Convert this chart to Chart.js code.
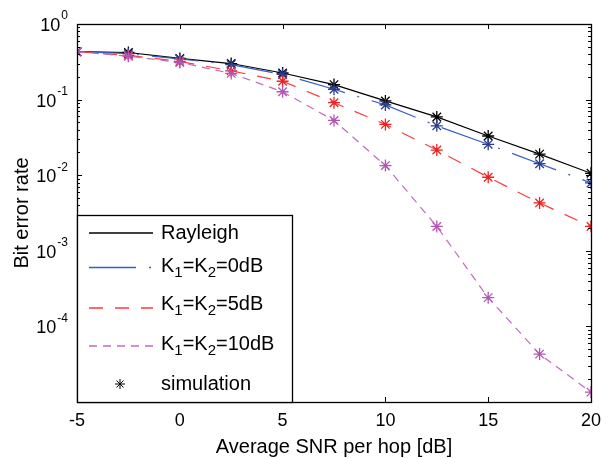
<!DOCTYPE html>
<html>
<head>
<meta charset="utf-8">
<script src="https://cdn.jsdelivr.net/npm/chart.js@4/dist/chart.umd.min.js"></script>
<style>
  body { margin: 0; background: #fff; }
</style>
</head>
<body>
<canvas id="ber" width="609" height="459"></canvas>
<script>
// Bit error rate vs. average SNR per hop
var snr = [-5, -2.5, 0, 2.5, 5, 7.5, 10, 12.5, 15, 17.5, 20];
var rayleigh = [0.43, 0.42, 0.35, 0.30, 0.225, 0.158, 0.096, 0.059, 0.033, 0.019, 0.0106];
var k0dB = [0.43, 0.405, 0.345, 0.29, 0.215, 0.137, 0.085, 0.045, 0.0256, 0.0142, 0.0079];
var k5dB = [0.43, 0.385, 0.32, 0.24, 0.175, 0.091, 0.047, 0.0215, 0.0094, 0.0043, 0.0021];
var k10dB = [0.43, 0.375, 0.31, 0.222, 0.127, 0.053, 0.0134, 0.0021, 0.00024, 0.000043, 0.0000135];

var xTicks = [-5, 0, 5, 10, 15, 20];
var yDecades = [0, -1, -2, -3, -4];
var legendLabels = ['Rayleigh', 'K_1=K_2=0dB', 'K_1=K_2=5dB', 'K_1=K_2=10dB', 'simulation'];

var FONT = '"Liberation Sans", Arial, sans-serif';

function pts(values) {
    return snr.map(function(x, i) { return {x: x, y: values[i]}; });
}

var series = [
    {label: legendLabels[0], data: rayleigh, color: '#000000', star: '#000000', dash: [], order: 3},
    {label: legendLabels[1], data: k0dB, color: '#3a5cc8', star: '#2b3f8a', dash: [47, 13, 2, 13], order: 2},
    {label: legendLabels[2], data: k5dB, color: '#ff3a3a', star: '#ee2222', dash: [14, 12], order: 1},
    {label: legendLabels[3], data: k10dB, color: '#c06cc0', star: '#b455b4', dash: [8, 6], order: 0}
];

// draw "K_1=K_2" style text with subscripts
function drawRich(ctx, text, x, y, size) {
    var parts = text.split(/_(.)/);
    for (var i = 0; i < parts.length; i++) {
        if (!parts[i]) continue;
        if (i % 2 === 1) {
            ctx.font = Math.round(size * 0.75) + 'px ' + FONT;
            ctx.fillText(parts[i], x, y + 7);
        } else {
            ctx.font = size + 'px ' + FONT;
            ctx.fillText(parts[i], x, y);
        }
        x += ctx.measureText(parts[i]).width;
    }
}

var matlabAxes = {
    id: 'matlabAxes',
    afterDatasetsDraw: function(chart) {
        var ctx = chart.ctx;
        var a = chart.chartArea;
        var xs = chart.scales.x, ys = chart.scales.y;
        ctx.save();
        ctx.strokeStyle = '#000';
        ctx.lineWidth = 1;
        ctx.setLineDash([]);
        ctx.beginPath();
        // inward x ticks top and bottom
        xTicks.forEach(function(v) {
            var px = Math.round(xs.getPixelForValue(v)) + 0.5;
            ctx.moveTo(px, a.bottom); ctx.lineTo(px, a.bottom - 5);
            ctx.moveTo(px, a.top); ctx.lineTo(px, a.top + 5);
        });
        // log ticks left and right
        for (var e = -5; e <= 0; e++) {
            for (var m = 1; m <= 9; m++) {
                var v = m * Math.pow(10, e);
                if (v > 1.0000001) break;
                var py = Math.round(ys.getPixelForValue(v)) + 0.5;
                var len = m === 1 ? 5 : 3;
                ctx.moveTo(a.left, py); ctx.lineTo(a.left + len, py);
                ctx.moveTo(a.right, py); ctx.lineTo(a.right - len, py);
            }
        }
        ctx.stroke();
        ctx.lineWidth = 1.3;
        ctx.strokeRect(Math.round(a.left) + 0.5, Math.round(a.top) + 0.5,
            Math.round(a.right - a.left), Math.round(a.bottom - a.top));

        // y tick labels 10^n
        ctx.fillStyle = '#000';
        ctx.textBaseline = 'middle';
        ctx.textAlign = 'left';
        yDecades.forEach(function(d) {
            var py = ys.getPixelForValue(Math.pow(10, d));
            var expo = String(d);
            ctx.font = '18px ' + FONT;
            var wb = ctx.measureText('10').width;
            ctx.font = '12px ' + FONT;
            var we = ctx.measureText(expo).width;
            var x0 = 68 - wb - we - 1;
            ctx.font = '18px ' + FONT;
            ctx.fillText('10', x0, py + 2);
            ctx.font = '12px ' + FONT;
            ctx.fillText(expo, x0 + wb + 1, py - 8);
        });

        // legend box
        var bx = Math.round(a.left) + 0.5, by = 215.5, bw = 215, bh = Math.round(a.bottom) - 215;
        ctx.fillStyle = '#fff';
        ctx.fillRect(bx, by, bw, bh);
        ctx.strokeRect(bx, by, bw, bh);
        var rows = [233, 266, 304, 344, 384];
        var lineY = [233, 267.5, 308, 346, 384];
        ctx.fillStyle = '#000';
        ctx.textBaseline = 'middle';
        legendLabels.forEach(function(lbl, i) {
            if (i < series.length) {
                var s = series[i];
                ctx.strokeStyle = s.color;
                ctx.lineWidth = 1.5;
                ctx.setLineDash(s.dash);
                ctx.beginPath();
                ctx.moveTo(89, lineY[i]); ctx.lineTo(153, lineY[i]);
                ctx.stroke();
                ctx.setLineDash([]);
            } else {
                ctx.strokeStyle = '#000';
                ctx.lineWidth = 1;
                ctx.beginPath();
                var cx = 120, cy = lineY[i], r = 5, d = r * Math.SQRT1_2;
                ctx.moveTo(cx - r, cy); ctx.lineTo(cx + r, cy);
                ctx.moveTo(cx, cy - r); ctx.lineTo(cx, cy + r);
                ctx.moveTo(cx - d, cy - d); ctx.lineTo(cx + d, cy + d);
                ctx.moveTo(cx - d, cy + d); ctx.lineTo(cx + d, cy - d);
                ctx.stroke();
            }
            ctx.fillStyle = '#000';
            drawRich(ctx, lbl, 161, rows[i], 20);
        });
        ctx.restore();
    }
};

var datasets = series.map(function(s) {
    return {
        label: s.label,
        data: pts(s.data),
        borderColor: s.color,
        borderWidth: 1.2,
        borderDash: s.dash,
        pointStyle: 'star',
        pointRadius: 6,
        pointBorderColor: s.star,
        pointBorderWidth: 1.3,
        pointBackgroundColor: s.star,
        fill: false,
        tension: 0,
        order: s.order
    };
});

new Chart(document.getElementById('ber').getContext('2d'), {
    type: 'line',
    data: {datasets: datasets},
    plugins: [matlabAxes],
    options: {
        responsive: false,
        animation: false,
        layout: {padding: {top: 24, right: 16, left: 0, bottom: 0}},
        plugins: {legend: {display: false}, tooltip: {enabled: false}},
        scales: {
            x: {
                type: 'linear',
                min: -5,
                max: 20,
                afterFit: function(scale) { scale.height = 57; },
                afterBuildTicks: function(scale) {
                    scale.ticks = xTicks.map(function(v) { return {value: v}; });
                },
                ticks: {color: '#000', font: {family: FONT, size: 18}, padding: 8, maxRotation: 0},
                grid: {display: false, drawTicks: false},
                border: {display: false},
                title: {display: true, text: 'Average SNR per hop [dB]', color: '#000',
                        font: {family: FONT, size: 20}, padding: {top: 0, bottom: 0}}
            },
            y: {
                type: 'logarithmic',
                min: 1e-5,
                max: 1,
                afterFit: function(scale) { scale.width = 77; },
                ticks: {display: false},
                grid: {display: false, drawTicks: false},
                border: {display: false},
                title: {display: true, text: 'Bit error rate', color: '#000',
                        font: {family: FONT, size: 20}, padding: {top: 10, bottom: 0}}
            }
        }
    }
});
</script>
</body>
</html>
